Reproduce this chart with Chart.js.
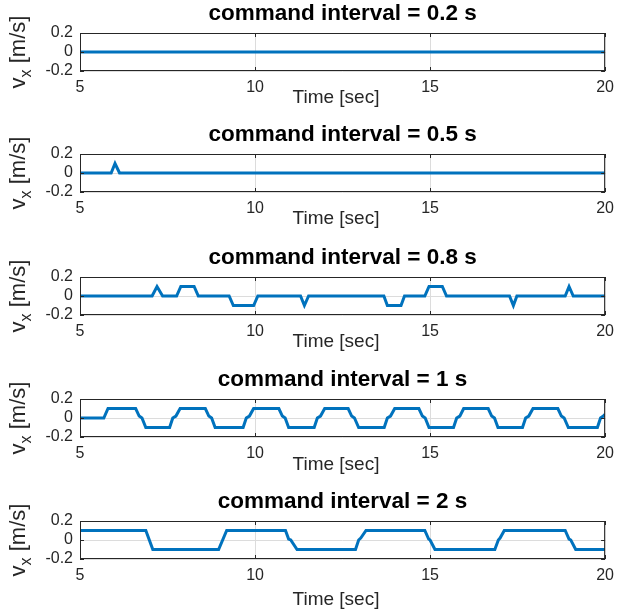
<!DOCTYPE html>
<html>
<head>
<meta charset="utf-8">
<script src="https://cdn.jsdelivr.net/npm/chart.js@4.4.1/dist/chart.umd.min.js"></script>
<style>
  html, body { margin: 0; padding: 0; background: #fff; }
  #wrap { position: relative; width: 621px; height: 616px; overflow: hidden; }
  #wrap canvas { position: absolute; left: 0; }
</style>
</head>
<body>
<div id="wrap"></div>
<script>
// command intervals, one per subplot
const intervals = ["0.2", "0.5", "0.8", "1", "2"];
const xTicks = [5, 10, 15, 20];
const yTicks = [-0.2, 0, 0.2];

// time [sec] / vx [m/s]
const t02 = [5, 20];
const v02 = [0, 0];

const t05 = [5, 5.89, 6.0, 6.13, 20];
const v05 = [0, 0, 0.1, 0, 0];

const t08 = [5, 7.06, 7.2, 7.36, 7.76, 7.88, 8.26, 8.38, 9.26, 9.38, 9.96, 10.08,
  11.3, 11.41, 11.53, 13.68, 13.78, 14.17, 14.27, 14.85, 14.97, 15.35, 15.47,
  17.27, 17.38, 17.48, 18.86, 18.97, 19.09, 20];
const v08 = [0, 0, 0.1, 0, 0, 0.1, 0.1, 0, 0, -0.1, -0.1, 0,
  0, -0.1, 0, 0, -0.1, -0.1, 0, 0, 0.1, 0.1, 0,
  0, -0.1, 0, 0, 0.1, 0, 0];

const t1 = [5, 5.68, 5.8,
  6.59, 6.69, 6.77, 6.88,
  7.56, 7.65, 7.74, 7.86,
  8.58, 8.68, 8.76, 8.86,
  9.66, 9.75, 9.84, 9.96,
  10.68, 10.78, 10.86, 10.96,
  11.69, 11.78, 11.87, 11.99,
  12.66, 12.76, 12.84, 12.96,
  13.69, 13.78, 13.87, 13.99,
  14.68, 14.78, 14.86, 14.97,
  15.67, 15.76, 15.85, 15.96,
  16.66, 16.76, 16.84, 16.94,
  17.64, 17.73, 17.82, 17.94,
  18.65, 18.75, 18.83, 18.95,
  19.78, 19.87, 19.95, 20];
const v1 = [0, 0, 0.1,
  0.1, 0.02, 0, -0.1,
  -0.1, 0, 0.02, 0.1,
  0.1, 0.02, 0, -0.1,
  -0.1, 0, 0.02, 0.1,
  0.1, 0.02, 0, -0.1,
  -0.1, 0, 0.02, 0.1,
  0.1, 0.02, 0, -0.1,
  -0.1, 0, 0.02, 0.1,
  0.1, 0.02, 0, -0.1,
  -0.1, 0, 0.02, 0.1,
  0.1, 0.02, 0, -0.1,
  -0.1, 0, 0.02, 0.1,
  0.1, 0.02, 0, -0.1,
  -0.1, 0, 0.02, 0.04];

const t2 = [5, 6.88, 7.08, 8.96, 9.19,
  10.87, 10.96, 11.02, 11.2,
  12.87, 12.96, 13.02, 13.17,
  14.85, 14.96, 15.0, 15.14,
  16.85, 16.95, 17.0, 17.12,
  18.86, 18.97, 19.02, 19.16, 20];
const v2 = [0.1, 0.1, -0.1, -0.1, 0.1,
  0.1, 0.01, 0, -0.1,
  -0.1, 0, 0.02, 0.1,
  0.1, 0.01, 0, -0.1,
  -0.1, 0, 0.02, 0.1,
  0.1, 0.01, 0, -0.1, -0.1];

const times = [t02, t05, t08, t1, t2];
const values = [v02, v05, v08, v1, v2];

// page layout (px)
const plotTops = [33, 154, 277, 399, 521];
const plotH = 38;
const padTop = 33;
const xLabelOffset = [27, 27, 27, 28, 41];

const FONT = '"Liberation Sans", Arial, Helvetica, sans-serif';
const INK = '#262626';
const BLUE = '#0072BD';
const GRID = '#dcdcdc';

const decor = {
  id: 'decor',
  afterDraw(chart, args, opts) {
    const { ctx, chartArea: a, scales } = chart;
    ctx.save();
    // box + inward tick marks
    ctx.strokeStyle = INK;
    ctx.lineWidth = 1;
    ctx.strokeRect(a.left + 0.5, a.top + 0.5, a.right - a.left - 1, a.bottom - a.top - 1);
    ctx.beginPath();
    xTicks.forEach(v => {
      const x = Math.round(scales.x.getPixelForValue(v)) + 0.5;
      ctx.moveTo(x, a.bottom); ctx.lineTo(x, a.bottom - 4);
      ctx.moveTo(x, a.top); ctx.lineTo(x, a.top + 4);
    });
    yTicks.forEach(v => {
      const y = Math.round(scales.y.getPixelForValue(v)) + 0.5;
      ctx.moveTo(a.left, y); ctx.lineTo(a.left + 4, y);
      ctx.moveTo(a.right, y); ctx.lineTo(a.right - 4, y);
    });
    ctx.stroke();

    ctx.fillStyle = '#000';
    // title
    ctx.font = 'bold 22.5px ' + FONT;
    ctx.textAlign = 'center';
    ctx.textBaseline = 'middle';
    ctx.fillText('command interval = ' + opts.interval + ' s', (a.left + a.right) / 2, a.top - 19);

    // x label
    ctx.fillStyle = INK;
    ctx.font = '19px ' + FONT;
    ctx.fillText('Time [sec]', 336, a.bottom + opts.xOff);

    // y label with subscript
    ctx.translate(25, (a.top + a.bottom) / 2);
    ctx.rotate(-Math.PI / 2);
    ctx.textAlign = 'left';
    ctx.textBaseline = 'alphabetic';
    ctx.font = '22px ' + FONT;
    const w1 = ctx.measureText('v').width;
    const w3 = ctx.measureText(' [m/s]').width;
    ctx.font = '16px ' + FONT;
    const w2 = ctx.measureText('x').width;
    const x0 = -(w1 + w2 + w3) / 2;
    ctx.font = '22px ' + FONT;
    ctx.fillText('v', x0, 0);
    ctx.font = '16px ' + FONT;
    ctx.fillText('x', x0 + w1, 6);
    ctx.font = '22px ' + FONT;
    ctx.fillText(' [m/s]', x0 + w1 + w2, 0);
    ctx.restore();
  }
};

const wrap = document.getElementById('wrap');

intervals.forEach((iv, i) => {
  const top = plotTops[i] - padTop;
  const H = i === intervals.length - 1 ? 616 - top : 122;
  const canvas = document.createElement('canvas');
  canvas.width = 621;
  canvas.height = H;
  canvas.style.top = top + 'px';
  wrap.appendChild(canvas);

  const pts = times[i].map((t, k) => ({ x: t, y: values[i][k] }));

  new Chart(canvas, {
    type: 'line',
    data: {
      datasets: [{
        data: pts,
        borderColor: BLUE,
        borderWidth: 3,
        pointRadius: 0,
        tension: 0,
        fill: false,
      }],
    },
    options: {
      responsive: false,
      animation: false,
      devicePixelRatio: 1,
      layout: { padding: { top: padTop, left: 0, right: 8, bottom: 0 } },
      plugins: {
        legend: { display: false },
        tooltip: { enabled: false },
        decor: { interval: iv, xOff: xLabelOffset[i] },
      },
      scales: {
        x: {
          type: 'linear',
          min: 5,
          max: 20,
          afterBuildTicks: s => { s.ticks = xTicks.map(v => ({ value: v })); },
          afterFit: s => { s.height = H - padTop - plotH; },
          grid: { color: GRID, drawTicks: false },
          border: { display: false },
          ticks: { color: INK, font: { family: FONT, size: 16 }, padding: 7, maxRotation: 0, autoSkip: false },
        },
        y: {
          min: -0.2,
          max: 0.2,
          afterBuildTicks: s => { s.ticks = yTicks.map(v => ({ value: v })); },
          afterFit: s => { s.width = 80; },
          grid: { color: GRID, drawTicks: false },
          border: { display: false },
          ticks: {
            color: INK,
            font: { family: FONT, size: 16 },
            padding: 7,
            autoSkip: false,
            callback: v => String(v),
          },
        },
      },
    },
    plugins: [decor],
  });
});
</script>
</body>
</html>
